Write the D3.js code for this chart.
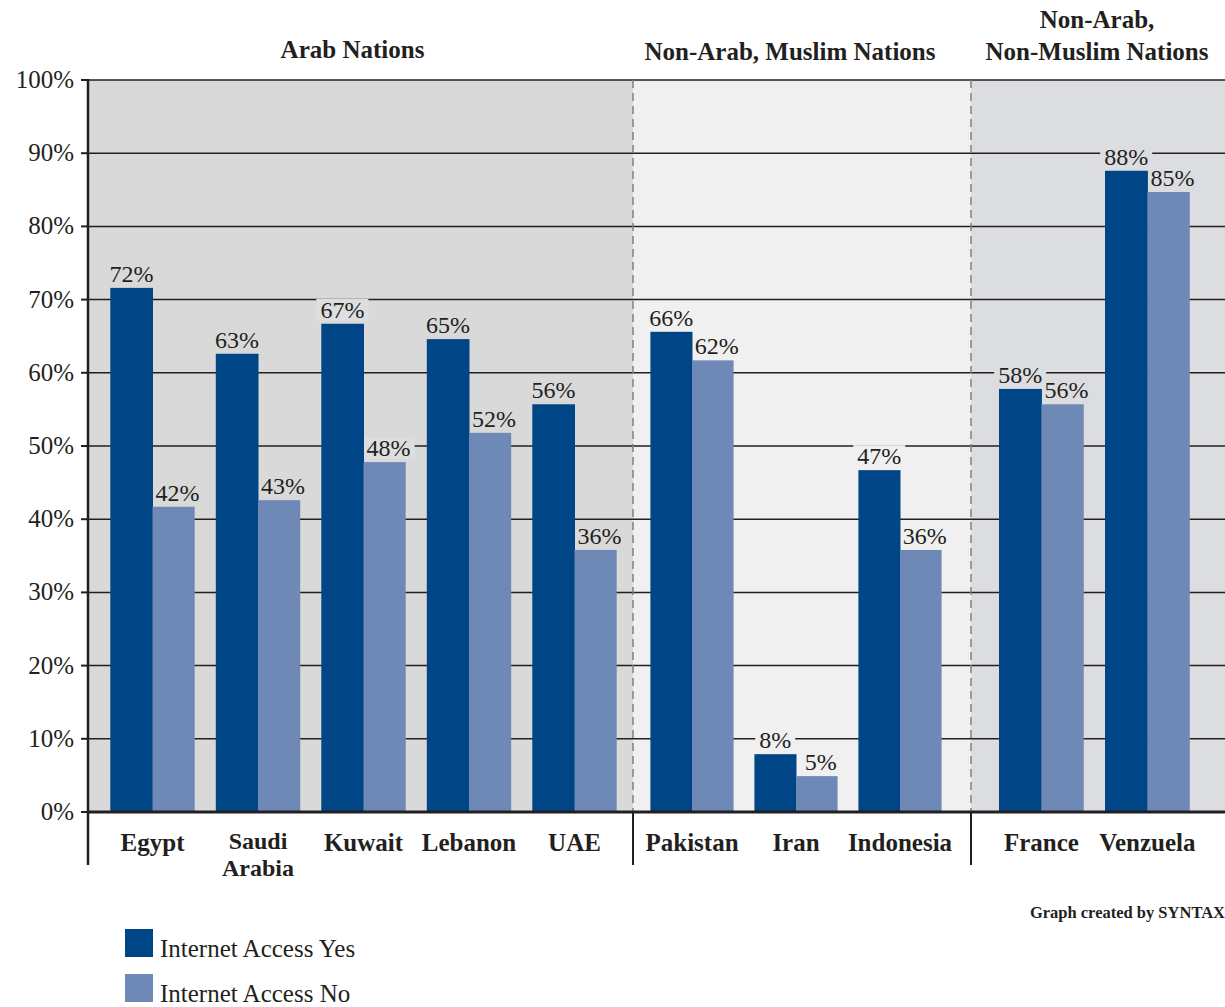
<!DOCTYPE html>
<html><head><meta charset="utf-8">
<script src="https://cdn.jsdelivr.net/npm/d3@7"></script>
<style>body{margin:0;background:#fff}svg{display:block}text{font-family:"Liberation Serif","DejaVu Serif",serif;fill:#231f20}</style>
</head><body><svg id="c" width="1225" height="1007"></svg>
<script>
const categories = ["Egypt","Saudi Arabia","Kuwait","Lebanon","UAE","Pakistan","Iran","Indonesia","France","Venzuela"];
const groupOf = ["Arab Nations","Arab Nations","Arab Nations","Arab Nations","Arab Nations","Non-Arab, Muslim Nations","Non-Arab, Muslim Nations","Non-Arab, Muslim Nations","Non-Arab, Non-Muslim Nations","Non-Arab, Non-Muslim Nations"];
const groupNames = ["Arab Nations","Non-Arab, Muslim Nations","Non-Arab, Non-Muslim Nations"];
const groupTitles = [["Arab Nations"],["Non-Arab, Muslim Nations"],["Non-Arab,","Non-Muslim Nations"]];
const seriesNames = ["Internet Access Yes","Internet Access No"];
const accessYes = [71.6,62.6,66.7,64.6,55.7,65.6,7.9,46.7,57.8,87.6];
const accessNo  = [41.7,42.6,47.8,51.8,35.8,61.7,4.9,35.8,55.7,84.7];
const yTicks = [0,10,20,30,40,50,60,70,80,90,100];

const svg = d3.select("#c");
const plotTop = 80, plotBottom = 812;
const bounds = [88, 633, 971, 1225];
const groupFill = ["#d9d9d9","#f0f0f0","#dcdde0"];
const colors = ["#004585","#6f89b6"];
const labelShift = [0, 4];
const y = d3.scaleLinear().domain([0,100]).range([plotBottom, plotTop]);

// group background
groupNames.forEach((g,i)=>{
  svg.append("rect").attr("x",bounds[i]).attr("y",plotTop).attr("width",bounds[i+1]-bounds[i]).attr("height",plotBottom-plotTop).attr("fill",groupFill[i]);
});
// gridlines
svg.append("g").selectAll("line").data(yTicks.filter(t=>t>0)).join("line")
  .attr("x1",bounds[0]).attr("x2",bounds[3]).attr("y1",d=>y(d)).attr("y2",d=>y(d))
  .attr("stroke","#231f20").attr("stroke-width",1.5);
// dashed separators
[1,2].forEach(i=>{
  svg.append("line").attr("x1",bounds[i]).attr("x2",bounds[i]).attr("y1",plotTop).attr("y2",plotBottom)
    .attr("stroke","#808080").attr("stroke-width",1.5).attr("stroke-dasharray","8,5");
});

// per-group band scales
const outerPad = [0.183, 0.225, 0.298];
const shift = [3, -6, -3.6];
const xScales = groupNames.map((g,i)=>{
  const cats = categories.filter((c,j)=>groupOf[j]===g);
  return d3.scaleBand().domain(cats).range([bounds[i]+shift[i], bounds[i+1]+shift[i]]).paddingInner(0.2).paddingOuter(outerPad[i]);
});
const xOf = c => xScales[groupNames.indexOf(groupOf[categories.indexOf(c)])];

const data = categories.map((c,i)=>({cat:c, vals:[accessYes[i],accessNo[i]], gi:groupNames.indexOf(groupOf[i])}));
const fmt = d3.format(".0f");

const bgG = svg.append("g");
const barG = svg.append("g");
const labelG = svg.append("g");
data.forEach(d=>{
  const xs = xOf(d.cat);
  const sub = d3.scaleBand().domain([0,1]).range([xs(d.cat), xs(d.cat)+xs.bandwidth()]);
  d.vals.forEach((v,k)=>{
    barG.append("rect").attr("x",sub(k)).attr("y",y(v)).attr("width",sub.bandwidth()+(k===0?0.5:0)).attr("height",y(0)-y(v)).attr("fill",colors[k]);
    const cx = sub(k)+sub.bandwidth()/2 + labelShift[k];
    const t = labelG.append("text").attr("x",cx).attr("y",y(v)-6).attr("text-anchor","middle")
      .attr("font-size",24).text(fmt(v)+"%");
    const bb = t.node().getBBox();
    bgG.append("rect").attr("x",bb.x-4).attr("y",bb.y+2).attr("width",bb.width+8).attr("height",bb.height-4)
      .attr("fill",d.cat==="Kuwait" ? "#dddee0" : groupFill[d.gi]);
  });
});

// y axis
svg.append("line").attr("x1",bounds[0]).attr("x2",bounds[0]).attr("y1",plotTop-1).attr("y2",865).attr("stroke","#231f20").attr("stroke-width",2.5);
svg.append("g").selectAll("line").data(yTicks).join("line")
  .attr("x1",81).attr("x2",bounds[0]).attr("y1",d=>y(d)).attr("y2",d=>y(d)).attr("stroke","#231f20").attr("stroke-width",2);
svg.append("g").selectAll("text").data(yTicks).join("text")
  .attr("x",74).attr("y",d=>y(d)+8).attr("text-anchor","end").attr("font-size",25).text(d=>d+"%");

// baseline
svg.append("line").attr("x1",bounds[0]).attr("x2",bounds[3]).attr("y1",plotBottom).attr("y2",plotBottom).attr("stroke","#231f20").attr("stroke-width",3);
[1,2].forEach(i=>{
  svg.append("line").attr("x1",bounds[i]).attr("x2",bounds[i]).attr("y1",plotBottom).attr("y2",865).attr("stroke","#231f20").attr("stroke-width",2);
});

// category labels
data.forEach(d=>{
  const xs = xOf(d.cat);
  const words = d.cat === "Saudi Arabia" ? ["Saudi","Arabia"] : [d.cat];
  words.forEach((w,k)=>svg.append("text").attr("x",xs(d.cat)+xs.bandwidth()/2).attr("y",(words.length>1?849:851)+k*27)
    .attr("text-anchor","middle").attr("font-size",words.length>1?24:25).attr("font-weight","bold").text(w));
});

// group titles
groupTitles.forEach((lines,i)=>{
  const cx = (bounds[i]+bounds[i+1])/2 + [-8,-12,-1][i];
  lines.forEach((l,k)=>svg.append("text").attr("text-anchor","middle").attr("font-size",25).attr("font-weight","bold")
    .attr("x",cx).attr("y",lines.length===1?(i===0?58:60):[28,60][k]).text(l));
});

// credit
svg.append("text").attr("x",1225).attr("y",918).attr("text-anchor","end").attr("font-size",16.5).attr("font-weight","bold").text("Graph created by SYNTAX");

// legend
seriesNames.forEach((s,k)=>{
  svg.append("rect").attr("x",125).attr("y",929+k*45).attr("width",28).attr("height",28).attr("fill",colors[k]);
  svg.append("text").attr("x",160).attr("y",957+k*45).attr("font-size",25).text(s);
});
</script></body></html>
